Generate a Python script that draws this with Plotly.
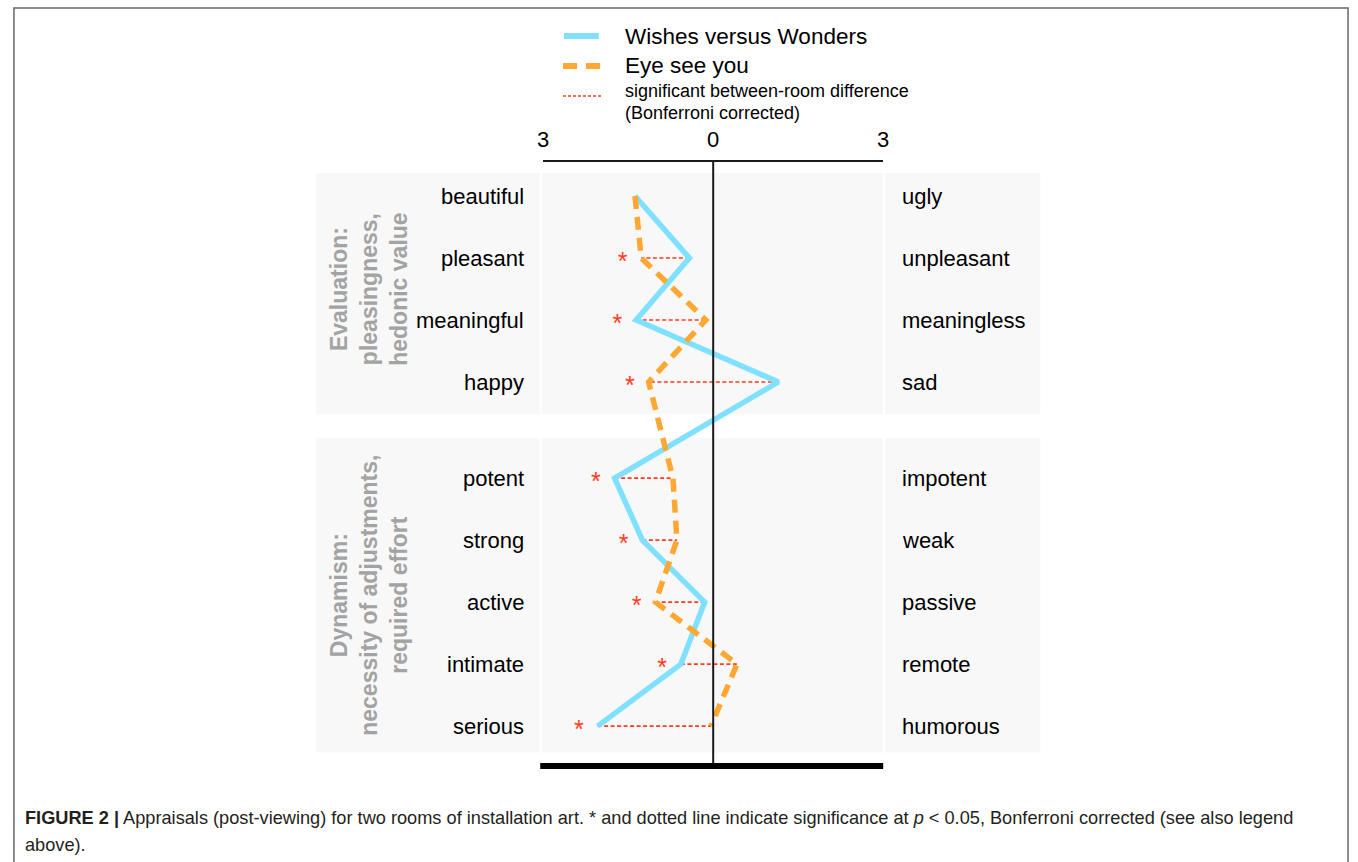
import plotly.graph_objects as go

# ---------------- data ----------------
left_labels = ["beautiful", "pleasant", "meaningful", "happy",
               "potent", "strong", "active", "intimate", "serious"]
right_labels = ["ugly", "unpleasant", "meaningless", "sad",
                "impotent", "weak", "passive", "remote", "humorous"]
group_of_row = [0, 0, 0, 0, 1, 1, 1, 1, 1]
wishes_vs_wonders = [-1.38, -0.42, -1.36, 1.15, -1.74, -1.25, -0.15, -0.57, -2.04]
eye_see_you = [-1.38, -1.27, -0.13, -1.14, -0.71, -0.64, -1.02, 0.42, -0.04]
significant = [False, True, True, True, True, True, True, True, True]
group_titles = ["<b>Evaluation:<br>pleasingness,<br>hedonic value</b>",
                "<b>Dynamism:<br>necessity of adjustments,<br>required effort</b>"]
tick_vals = [-3, 0, 3]
tick_text = ["3", "0", "3"]
legend_names = ["Wishes versus Wonders", "Eye see you",
                "significant between-room difference", "(Bonferroni corrected)"]
caption_line1 = ("<b>FIGURE 2 |</b> Appraisals (post-viewing) for two rooms of installation art. "
                 "* and dotted line indicate significance at <i>p</i> &lt; 0.05, Bonferroni "
                 "corrected (see also legend")
caption_line2 = "above)."

# ---------------- styles / layout helpers ----------------
W, H = 1358, 862
FONT = "Liberation Sans, Arial, Helvetica, sans-serif"
BLUE = "#80e0ff"
ORANGE = "#ffa733"
RED = "#ff3c1e"
PANEL = "#f8f8f8"
ROW0_PX, ROW_STEP_PX = 196, 62
GROUP_GAP = 0.55


def px(x):
    return x / W


def py(y):
    return 1 - y / H


rows = [i + GROUP_GAP * g for i, g in enumerate(group_of_row)]

fig = go.Figure()

# significance connectors
cx, cy = [], []
for w, e, r, s in zip(wishes_vs_wonders, eye_see_you, rows, significant):
    if s:
        cx += [w, e, None]
        cy += [r, r, None]
fig.add_trace(go.Scatter(x=cx, y=cy, mode="lines", hoverinfo="skip",
                         line=dict(color=RED, width=1.6, dash="4px,2.5px"),
                         showlegend=False))

fig.add_trace(go.Scatter(x=wishes_vs_wonders, y=rows, mode="lines",
                         name=legend_names[0],
                         line=dict(color=BLUE, width=5.5), showlegend=False))
fig.add_trace(go.Scatter(x=eye_see_you, y=rows, mode="lines",
                         name=legend_names[1],
                         line=dict(color=ORANGE, width=5.5, dash="13px,8px"),
                         showlegend=False))

# stars
sx, sy = [], []
for w, e, r, s in zip(wishes_vs_wonders, eye_see_you, rows, significant):
    if s:
        sx.append(min(w, e) - 0.33)
        sy.append(r + 0.09)
fig.add_trace(go.Scatter(x=sx, y=sy, mode="text", text=["*"] * len(sx),
                         textfont=dict(color=RED, size=25, family=FONT),
                         hoverinfo="skip", showlegend=False))

shapes = []
# grey panels
for (y0, y1) in [(173, 414), (438, 752.5)]:
    for (x0, x1) in [(313, 538.5), (541, 884.5), (887, 1043.5)]:
        shapes.append(dict(type="rect", xref="paper", yref="paper",
                           x0=px(x0), x1=px(x1), y0=py(y1), y1=py(y0),
                           fillcolor=PANEL, line=dict(width=0), layer="below"))
# zero line
shapes.append(dict(type="line", xref="x", yref="paper", x0=0, x1=0,
                   y0=py(766), y1=py(161), line=dict(color="#1a1a1a", width=2)))
# bottom thick bar
shapes.append(dict(type="line", xref="paper", yref="paper", x0=px(539), x1=px(885),
                   y0=py(766), y1=py(766), line=dict(color="black", width=6)))
# frame
shapes.append(dict(type="rect", xref="paper", yref="paper", x0=px(8), x1=px(1354),
                   y0=-0.05, y1=py(8), line=dict(color="#666666", width=1.5)))
# legend samples
shapes.append(dict(type="line", xref="paper", yref="paper", x0=px(563), x1=px(598),
                   y0=py(36), y1=py(36), line=dict(color=BLUE, width=6)))
shapes.append(dict(type="line", xref="paper", yref="paper", x0=px(562), x1=px(600),
                   y0=py(66), y1=py(66), line=dict(color=ORANGE, width=6, dash="14px,9px")))
shapes.append(dict(type="line", xref="paper", yref="paper", x0=px(562), x1=px(601),
                   y0=py(96), y1=py(96), line=dict(color=RED, width=1.3, dash="3px,2px")))

ann = []
for lbl, r in zip(left_labels, rows):
    ann.append(dict(x=px(525), xref="paper", y=r, yref="y", text=lbl,
                    xanchor="right", yanchor="middle", showarrow=False,
                    font=dict(size=22, color="black", family=FONT)))
for lbl, r in zip(right_labels, rows):
    ann.append(dict(x=px(902), xref="paper", y=r, yref="y", text=lbl,
                    xanchor="left", yanchor="middle", showarrow=False,
                    font=dict(size=22, color="black", family=FONT)))
for title, yc in zip(group_titles, [289, 595]):
    ann.append(dict(x=px(366), xref="paper", y=py(yc), yref="paper", text=title,
                    textangle=-90, xanchor="center", yanchor="middle", showarrow=False,
                    align="center",
                    font=dict(size=23, color="#a3a3a3", family=FONT)))
# legend texts
for txt, yc, fs in zip(legend_names, [36, 66, 91, 113], [22.5, 22.5, 18, 18]):
    ann.append(dict(x=px(622), xref="paper", y=py(yc), yref="paper", text=txt,
                    xanchor="left", yanchor="middle", showarrow=False,
                    font=dict(size=fs, color="black", family=FONT)))
# caption
ann.append(dict(x=px(17), xref="paper", y=py(818), yref="paper", text=caption_line1,
                xanchor="left", yanchor="middle", showarrow=False,
                font=dict(size=18.2, color="#231f20", family=FONT)))
ann.append(dict(x=px(17), xref="paper", y=py(845), yref="paper", text=caption_line2,
                xanchor="left", yanchor="middle", showarrow=False,
                font=dict(size=18.2, color="#231f20", family=FONT)))

fig.update_layout(
    width=W, height=H,
    margin=dict(l=0, r=0, t=0, b=0),
    paper_bgcolor="white", plot_bgcolor="rgba(0,0,0,0)",
    showlegend=False,
    shapes=shapes, annotations=ann,
    xaxis=dict(domain=[px(542), px(885)], range=[-3, 3], side="top",
               anchor="free", position=py(161),
               showline=True, linecolor="#1a1a1a", linewidth=1.5,
               tickvals=tick_vals, ticktext=tick_text, ticks="",
               ticklabelstandoff=4,
               tickfont=dict(size=22, color="black", family=FONT),
               showgrid=False, zeroline=False, fixedrange=True),
    yaxis=dict(domain=[0, 1],
               range=[(H - ROW0_PX) / ROW_STEP_PX, -ROW0_PX / ROW_STEP_PX],
               visible=False, showgrid=False, zeroline=False, fixedrange=True),
)

fig.write_html("out.html", config={"displayModeBar": False},
               post_script="document.body.style.margin='0';"
                           "document.body.style.overflow='hidden';")
